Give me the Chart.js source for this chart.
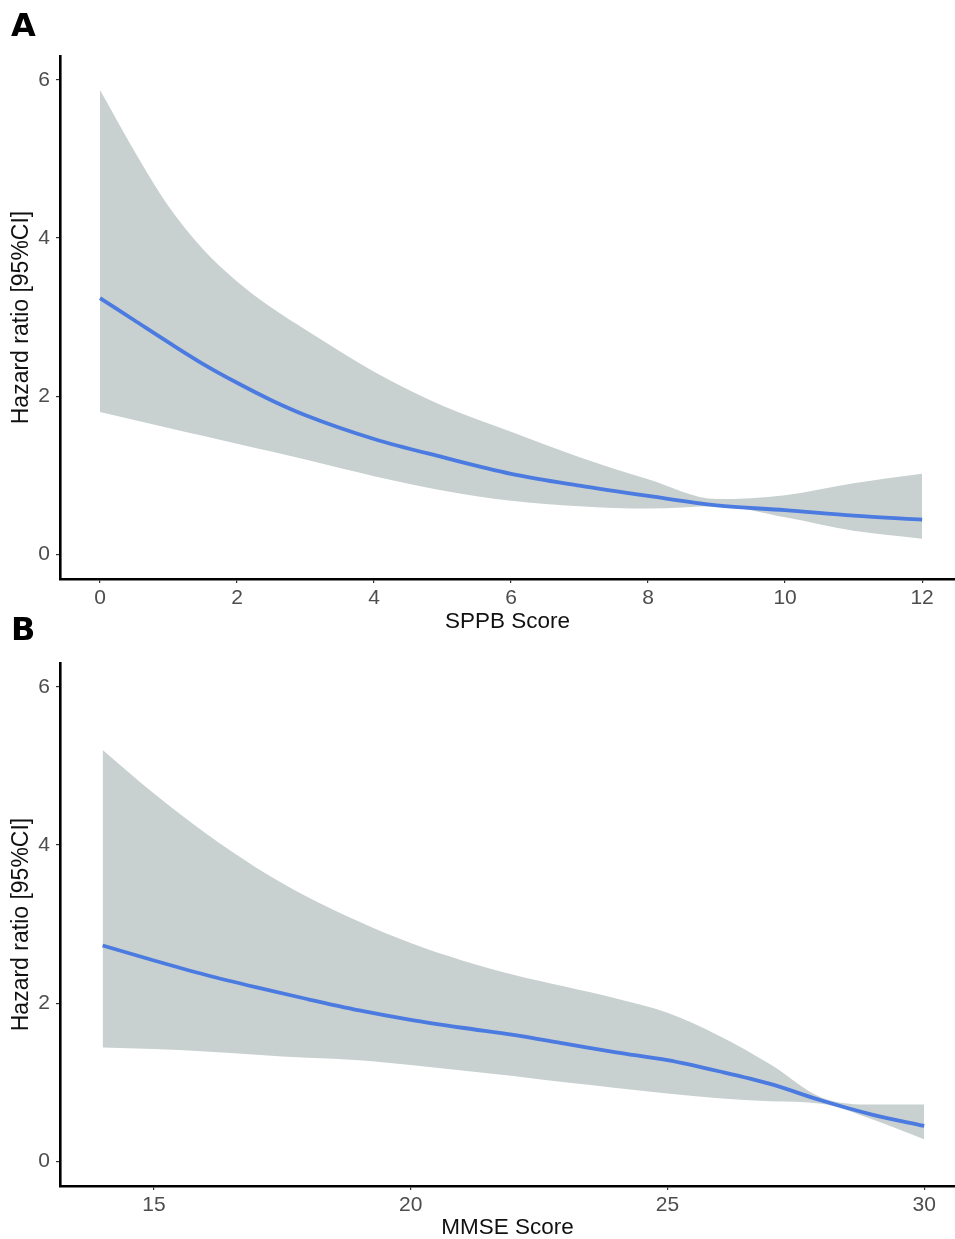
<!DOCTYPE html>
<html>
<head>
<meta charset="utf-8">
<script src="https://cdn.jsdelivr.net/npm/chart.js@4.4.0/dist/chart.umd.min.js"></script>
<style>
  body { margin: 0; background: #fff; width: 955px; height: 1239px; position: relative; overflow: hidden; }
  canvas { position: absolute; left: 0; }
  .panel { position: absolute; font-family: "DejaVu Sans", sans-serif; font-weight: bold; font-size: 32px; line-height: 32px; color: #000; }
</style>
</head>
<body>
<canvas id="chartA" width="955" height="640" style="top:0px"></canvas>
<canvas id="chartB" width="955" height="599" style="top:640px"></canvas>
<div class="panel" style="left:11px; top:9px">A</div>
<div class="panel" style="left:11px; top:613px">B</div>

<script>
// Panel A - SPPB score
var sppbScore = [0, 0.5, 1, 1.5, 2, 2.5, 3, 4, 5, 6, 7, 8, 9, 10, 11, 12];
var sppbHR    = [3.24, 2.96, 2.68, 2.41, 2.17, 1.95, 1.76, 1.46, 1.23, 1.02, 0.87, 0.74, 0.62, 0.56, 0.49, 0.44];
var sppbUpper = [5.87, 5.10, 4.40, 3.86, 3.45, 3.12, 2.84, 2.31, 1.88, 1.55, 1.23, 0.95, 0.70, 0.75, 0.90, 1.02];
var sppbLower = [1.80, 1.70, 1.60, 1.50, 1.40, 1.30, 1.20, 0.99, 0.81, 0.68, 0.61, 0.58, 0.61, 0.47, 0.30, 0.20];
var sppbTicks = [0, 2, 4, 6, 8, 10, 12];

// Panel B - MMSE score
var mmseScore = [14, 15, 16, 17, 18, 19, 20, 21, 22, 23, 24, 25, 26, 27, 28, 29, 30];
var mmseHR    = [2.73, 2.54, 2.36, 2.20, 2.05, 1.91, 1.79, 1.69, 1.60, 1.49, 1.38, 1.28, 1.14, 0.98, 0.77, 0.59, 0.45];
var mmseUpper = [5.20, 4.65, 4.15, 3.71, 3.34, 3.03, 2.76, 2.54, 2.36, 2.21, 2.06, 1.88, 1.59, 1.23, 0.81, 0.72, 0.72];
var mmseLower = [1.44, 1.42, 1.39, 1.35, 1.31, 1.28, 1.22, 1.15, 1.08, 1.00, 0.93, 0.86, 0.80, 0.76, 0.73, 0.53, 0.28];
var mmseTicks = [15, 20, 25, 30];

var hrTicks = [0, 2, 4, 6];

var bandColor = '#c8d0d0';
var lineColor = '#4b7be0';

function pts(xs, ys) {
  return xs.map(function (x, i) { return { x: x, y: ys[i] }; });
}

function makeChart(id, cfg) {
  var ctx = document.getElementById(id).getContext('2d');
  return new Chart(ctx, {
    type: 'line',
    data: {
      datasets: [
        { label: 'upper', data: pts(cfg.xs, cfg.upper), fill: '+1', backgroundColor: bandColor,
          borderWidth: 0, pointRadius: 0, cubicInterpolationMode: 'monotone', order: 2 },
        { label: 'lower', data: pts(cfg.xs, cfg.lower), fill: false,
          borderWidth: 0, pointRadius: 0, cubicInterpolationMode: 'monotone', order: 3 },
        { label: 'HR', data: pts(cfg.xs, cfg.hr), fill: false, borderColor: lineColor,
          borderWidth: 3.8, pointRadius: 0, cubicInterpolationMode: 'monotone', order: 0 }
      ]
    },
    options: {
      responsive: false,
      animation: false,
      layout: { padding: { top: cfg.top, right: 0, left: 0, bottom: 0 } },
      plugins: { legend: { display: false }, tooltip: { enabled: false } },
      scales: {
        x: {
          type: 'linear',
          min: cfg.xmin, max: cfg.xmax,
          afterBuildTicks: function (s) { s.ticks = cfg.xticks.map(function (v) { return { value: v }; }); },
          afterFit: function (s) { s.height = cfg.xh; },
          border: { display: true, color: '#000', width: 2.6 },
          grid: { drawOnChartArea: false, drawTicks: true, tickLength: 4, color: '#333', lineWidth: 1.2 },
          ticks: { autoSkip: false, maxRotation: 0, padding: 3, color: '#4d4d4d',
                   font: { family: 'Liberation Sans', size: 21 } },
          title: { display: true, text: cfg.xtitle, color: '#111',
                   font: { family: 'Liberation Sans', size: 22.5, lineHeight: 1 },
                   padding: { top: 0, bottom: cfg.titlePad } }
        },
        y: {
          min: -0.31, max: 6.3,
          afterBuildTicks: function (s) { s.ticks = hrTicks.map(function (v) { return { value: v }; }); },
          afterFit: function (s) { s.width = 60; },
          border: { display: true, color: '#000', width: 2.6 },
          grid: { drawOnChartArea: false, drawTicks: true, tickLength: 4, color: '#333', lineWidth: 1.2 },
          ticks: { autoSkip: false, padding: 6, color: '#4d4d4d',
                   font: { family: 'Liberation Sans', size: 21 } },
          title: { display: true, text: 'Hazard ratio [95%CI]', color: '#111',
                   font: { family: 'Liberation Sans', size: 23, lineHeight: 1 },
                   padding: { top: 10.5, bottom: 0 } }
        }
      }
    }
  });
}

makeChart('chartA', {
  xs: sppbScore, hr: sppbHR, upper: sppbUpper, lower: sppbLower, xticks: sppbTicks,
  xmin: -0.584, xmax: 12.48, xtitle: 'SPPB Score', top: 56, xh: 61, titlePad: 6.75
});

makeChart('chartB', {
  xs: mmseScore, hr: mmseHR, upper: mmseUpper, lower: mmseLower, xticks: mmseTicks,
  xmin: 13.17, xmax: 30.6, xtitle: 'MMSE Score', top: 23, xh: 53, titlePad: 0
});
</script>
</body>
</html>
